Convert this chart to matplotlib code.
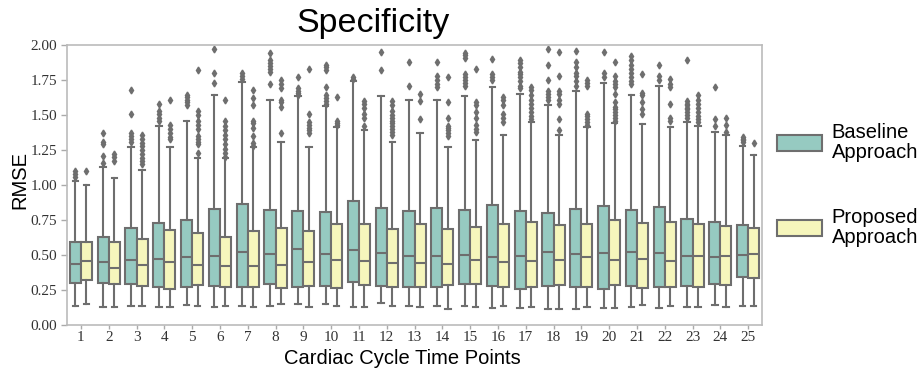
import colorsys
import matplotlib
matplotlib.use("Agg")
import matplotlib.pyplot as plt
import matplotlib.colors as mcolors
from matplotlib.patches import Patch

time_points = [str(i) for i in range(1, 26)]
groups = ["Baseline\nApproach", "Proposed\nApproach"]

# box statistics
base_q1 = [0.30, 0.30, 0.29, 0.27, 0.27, 0.28, 0.27, 0.29, 0.27, 0.28, 0.31, 0.28, 0.27,
           0.27, 0.29, 0.28, 0.26, 0.28, 0.27, 0.26, 0.28, 0.27, 0.28, 0.29, 0.34]
base_med = [0.436, 0.448, 0.464, 0.471, 0.488, 0.493, 0.524, 0.505, 0.54, 0.51, 0.536, 0.514, 0.49,
            0.493, 0.498, 0.483, 0.493, 0.519, 0.51, 0.514, 0.524, 0.517, 0.493, 0.486, 0.502]
base_q3 = [0.59, 0.626, 0.69, 0.729, 0.75, 0.83, 0.862, 0.82, 0.814, 0.805, 0.886, 0.833, 0.817,
           0.833, 0.821, 0.86, 0.814, 0.802, 0.826, 0.85, 0.824, 0.845, 0.755, 0.733, 0.714]
base_lo = [0.138, 0.13, 0.138, 0.13, 0.143, 0.128, 0.138, 0.138, 0.152, 0.15, 0.13, 0.157, 0.138,
           0.133, 0.138, 0.124, 0.121, 0.117, 0.117, 0.121, 0.126, 0.124, 0.13, 0.143, 0.133]
base_hi = [1.03, 1.126, 1.274, 1.42, 1.46, 1.64, 1.738, 1.61, 1.633, 1.567, 1.745, 1.633, 1.61,
           1.61, 1.633, 1.70, 1.65, 1.574, 1.67, 1.726, 1.643, 1.71, 1.45, 1.38, 1.28]
base_fliers = [
    [1.06, 1.08, 1.10],
    [1.16, 1.21, 1.29, 1.31, 1.37],
    [1.31, 1.33, 1.35, 1.37, 1.51, 1.68],
    [1.46, 1.48, 1.51, 1.53, 1.58],
    [1.57, 1.59, 1.61, 1.63, 1.64],
    [1.73, 1.80, 1.97],
    [1.76, 1.78, 1.80],
    [1.72, 1.81, 1.83, 1.85, 1.87, 1.89, 1.94],
    [1.64, 1.66, 1.67, 1.69, 1.77],
    [1.58, 1.60, 1.62, 1.64, 1.70, 1.82, 1.84, 1.86],
    [1.76, 1.77],
    [1.82, 1.95],
    [1.71, 1.88],
    [1.70, 1.72, 1.75, 1.78, 1.88],
    [1.71, 1.73, 1.75, 1.77, 1.79, 1.91, 1.93, 1.94],
    [1.75, 1.77, 1.79, 1.90],
    [1.69, 1.71, 1.74, 1.77, 1.79, 1.81, 1.84, 1.87, 1.89],
    [1.61, 1.63, 1.65, 1.67, 1.75, 1.86, 1.97],
    [1.71, 1.74, 1.78, 1.80, 1.84, 1.88, 1.96],
    [1.77, 1.80, 1.95],
    [1.72, 1.74, 1.77, 1.80, 1.83, 1.86, 1.89, 1.92],
    [1.75, 1.78, 1.86],
    [1.48, 1.50, 1.52, 1.54, 1.55, 1.57, 1.58, 1.60, 1.89],
    [1.42, 1.47, 1.70],
    [1.31, 1.32, 1.33, 1.34],
]

prop_q1 = [0.32, 0.293, 0.28, 0.26, 0.288, 0.27, 0.27, 0.264, 0.279, 0.267, 0.283, 0.27, 0.274,
           0.283, 0.29, 0.274, 0.271, 0.288, 0.27, 0.283, 0.264, 0.274, 0.27, 0.286, 0.338]
prop_med = [0.455, 0.41, 0.426, 0.452, 0.426, 0.42, 0.42, 0.426, 0.45, 0.467, 0.46, 0.445, 0.44,
            0.436, 0.464, 0.448, 0.455, 0.464, 0.486, 0.467, 0.469, 0.457, 0.493, 0.493, 0.505]
prop_q3 = [0.59, 0.593, 0.614, 0.676, 0.657, 0.63, 0.671, 0.693, 0.671, 0.724, 0.724, 0.686, 0.72,
           0.688, 0.702, 0.72, 0.738, 0.714, 0.724, 0.752, 0.731, 0.733, 0.724, 0.707, 0.695]
prop_lo = [0.152, 0.13, 0.138, 0.13, 0.138, 0.138, 0.126, 0.148, 0.13, 0.138, 0.13, 0.138, 0.13,
           0.114, 0.13, 0.138, 0.13, 0.117, 0.13, 0.121, 0.143, 0.136, 0.13, 0.126, 0.136]
prop_hi = [1.0, 1.05, 1.11, 1.27, 1.19, 1.19, 1.27, 1.31, 1.27, 1.417, 1.39, 1.305, 1.37,
           1.27, 1.32, 1.36, 1.45, 1.357, 1.417, 1.443, 1.436, 1.417, 1.42, 1.357, 1.217]
prop_fliers = [
    [1.10],
    [1.17, 1.20, 1.22],
    [1.15, 1.17, 1.19, 1.22, 1.25, 1.28, 1.30, 1.33, 1.36],
    [1.33, 1.34, 1.37, 1.40, 1.43, 1.61],
    [1.23, 1.29, 1.31, 1.33, 1.35, 1.40, 1.43, 1.46, 1.50, 1.53, 1.82],
    [1.20, 1.23, 1.26, 1.29, 1.33, 1.36, 1.39, 1.42, 1.46, 1.61],
    [1.28, 1.30, 1.35, 1.41, 1.44, 1.46, 1.57, 1.62, 1.68],
    [1.37, 1.56, 1.59, 1.61, 1.69, 1.72, 1.75],
    [1.37, 1.39, 1.41, 1.43, 1.45, 1.51, 1.83],
    [1.43, 1.44, 1.46, 1.63],
    [1.42, 1.48, 1.51, 1.55, 1.58, 1.60],
    [1.36, 1.38, 1.40, 1.42, 1.44, 1.46, 1.48, 1.50, 1.53, 1.57, 1.60],
    [1.47, 1.60, 1.65],
    [1.35, 1.37, 1.39, 1.41, 1.42, 1.48, 1.59, 1.77],
    [1.38, 1.40, 1.43, 1.48, 1.52, 1.57, 1.59, 1.83],
    [1.45, 1.48, 1.51, 1.57, 1.61, 1.63],
    [1.47, 1.49, 1.52, 1.55, 1.58, 1.61, 1.64, 1.68, 1.70],
    [1.39, 1.47, 1.58, 1.61, 1.65, 1.67, 1.78, 1.95],
    [1.43, 1.45, 1.47, 1.49, 1.51, 1.71, 1.73, 1.75],
    [1.46, 1.48, 1.50, 1.52, 1.54, 1.56, 1.59, 1.65, 1.70, 1.72, 1.74, 1.78, 1.88],
    [1.51, 1.54, 1.59, 1.64, 1.66, 1.79],
    [1.46, 1.48, 1.58, 1.70, 1.72, 1.76],
    [1.45, 1.47, 1.49, 1.52, 1.55, 1.58, 1.61, 1.64],
    [1.38, 1.43, 1.48],
    [1.30],
]


def desat(c, prop=0.75):
    r, g, b = mcolors.to_rgb(c)
    h, l, s = colorsys.rgb_to_hls(r, g, b)
    return colorsys.hls_to_rgb(h, l, s * prop)


colors = [desat("#8dd3c7"), desat("#ffffb3")]
edge = "#6e6e6e"
sans = "Liberation Sans"


def make_stats(q1, med, q3, lo, hi, fl):
    return [dict(q1=a, med=m, q3=c, whislo=l, whishi=h, fliers=f)
            for a, m, c, l, h, f in zip(q1, med, q3, lo, hi, fl)]


fig = plt.figure(figsize=(9.22, 3.70), dpi=100)
ax = fig.add_axes([0.0727, 0.1216, 0.7538, 0.7568])

sets = [make_stats(base_q1, base_med, base_q3, base_lo, base_hi, base_fliers),
        make_stats(prop_q1, prop_med, prop_q3, prop_lo, prop_hi, prop_fliers)]
offsets = [-0.2, 0.2]
for stats, off, col in zip(sets, offsets, colors):
    pos = [i + off for i in range(len(time_points))]
    ax.bxp(stats, positions=pos, widths=0.4, patch_artist=True, manage_ticks=False,
           boxprops=dict(facecolor=col, edgecolor=edge, linewidth=1.5),
           medianprops=dict(color=edge, linewidth=1.5),
           whiskerprops=dict(color=edge, linewidth=1.5),
           capprops=dict(color=edge, linewidth=1.5),
           flierprops=dict(marker="d", markerfacecolor=edge, markeredgecolor=edge,
                           markersize=3.5, linestyle="none"))

ax.set_xlim(-0.5, len(time_points) - 0.5)
ax.set_ylim(0, 2.0)
ax.set_xticks(range(len(time_points)))
ax.set_xticklabels(time_points)
ax.set_yticks([0, 0.25, 0.5, 0.75, 1.0, 1.25, 1.5, 1.75, 2.0])
ax.set_yticklabels([f"{v:.2f}" for v in ax.get_yticks()])
for lab in ax.get_xticklabels() + ax.get_yticklabels():
    lab.set_family("Liberation Serif")
    lab.set_fontsize(11)
    lab.set_color("#333333")
ax.tick_params(axis="y", length=4, color="#aaaaaa", width=1, pad=3)
ax.tick_params(axis="x", length=3, color="#aaaaaa", width=1, pad=1)
for sp in ax.spines.values():
    sp.set_color("#bbbbbb")
    sp.set_linewidth(1.2)

# title and axis labels sit a little left of the axes centre in the original
fig.text(0.405, 0.9135, "Specificity", family=sans, fontsize=24.5, ha="center", va="baseline")
fig.text(0.4366, 0.016, "Cardiac Cycle Time Points", family=sans, fontsize=14.5,
         ha="center", va="baseline")
fig.text(0.0212, 0.513, "RMSE", family=sans, fontsize=14.5, rotation=90,
         ha="center", va="center")

handles = [Patch(facecolor=c, edgecolor=edge, linewidth=1.5) for c in colors]
leg = ax.legend(handles, groups, loc="center left", bbox_to_anchor=(1.0, 0.5), frameon=False,
                prop=dict(family=sans, size=14.5), handlelength=2.25, handleheight=0.8,
                labelspacing=2.3, handletextpad=0.45, borderaxespad=0.35)
for t in leg.get_texts():
    t.set_linespacing(1.05)

fig.savefig("out.png", dpi=100)
